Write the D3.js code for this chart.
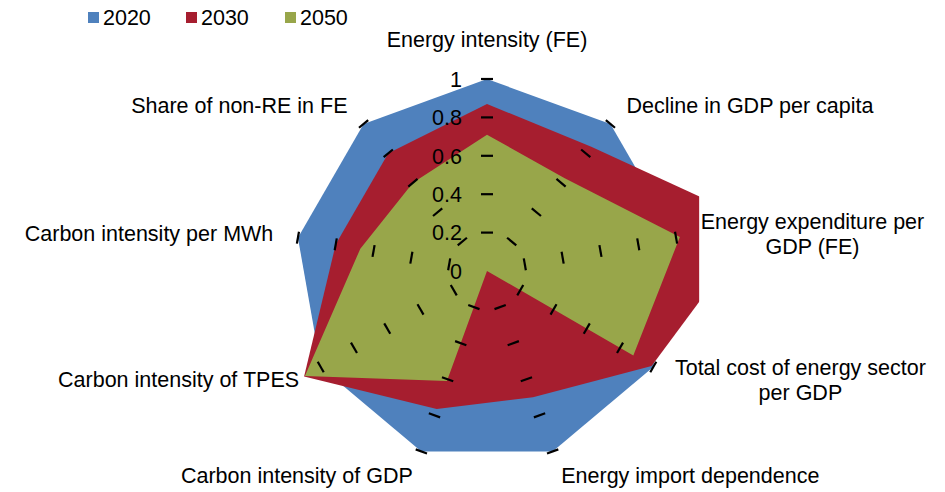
<!DOCTYPE html>
<html>
<head>
<meta charset="utf-8">
<script src="https://cdn.jsdelivr.net/npm/d3@7"></script>
<style>
  html, body { margin: 0; padding: 0; background: #fff; }
  svg { display: block; }
  text { font-family: "Liberation Sans", Arial, sans-serif; fill: #000; }
</style>
</head>
<body>
<script>
// ---- data ----
const categories = [
  "Energy intensity (FE)",
  "Decline in GDP per capita",
  "Energy expenditure per\nGDP (FE)",
  "Total cost of energy sector\nper GDP",
  "Energy import dependence",
  "Carbon intensity of GDP",
  "Carbon intensity of TPES",
  "Carbon intensity per MWh",
  "Share of non-RE in FE"
];
const years = ["2020", "2030", "2050"];
const v2020 = [1, 1, 1, 1, 1, 1, 1, 1, 1];
const v2030 = [0.87, 0.845, 1.43, 0.99, 0.70, 0.765, 1.10, 0.80, 0.80];
const v2050 = [0.71, 0.63, 1.02, 0.88, 0.0, 0.61, 1.095, 0.67, 0.60];
const tickValues = [0, 0.2, 0.4, 0.6, 0.8, 1];
const tickLabels = ["0", "0.2", "0.4", "0.6", "0.8", "1"];
const colors = ["#4F81BD", "#A61E2F", "#98A64A"];

// ---- layout ----
const W = 945, H = 492;
const cx = 487, cy = 271, R = 192;
const fontSize = 21.5;

const svg = d3.select("body").append("svg").attr("width", W).attr("height", H);

const r = d3.scaleLinear().domain([0, 1]).range([0, R]);
const angle = d3.scalePoint().domain(d3.range(categories.length))
  .range([0, 2 * Math.PI * (categories.length - 1) / categories.length]);

const g = svg.append("g").attr("transform", `translate(${cx},${cy})`);

// plot-area clip
const clipHalf = r(1.105);
svg.append("defs").append("clipPath").attr("id", "plotclip")
  .append("rect")
  .attr("x", -clipHalf).attr("y", -clipHalf)
  .attr("width", clipHalf * 2).attr("height", clipHalf * 2);

const radial = d3.lineRadial()
  .angle((d, i) => angle(i))
  .radius(d => r(d))
  .curve(d3.curveLinearClosed);

const series = [v2020, v2030, v2050];
g.append("g").attr("clip-path", "url(#plotclip)")
  .selectAll("path").data(series).join("path")
  .attr("d", d => radial(d))
  .attr("fill", (d, i) => colors[i])
  .attr("stroke", "none");

// tick dashes on every spoke at each level (perpendicular to spoke)
const dashHalf = 6;
const dashes = [];
categories.forEach((c, i) => {
  tickValues.filter(v => v > 0).forEach(v => dashes.push({ i, v }));
});
g.append("g").selectAll("line").data(dashes).join("line")
  .each(function (d) {
    const a = angle(d.i);
    const px = r(d.v) * Math.sin(a), py = -r(d.v) * Math.cos(a);
    const tx = Math.cos(a), ty = Math.sin(a);
    d3.select(this)
      .attr("x1", px - tx * dashHalf).attr("y1", py - ty * dashHalf)
      .attr("x2", px + tx * dashHalf).attr("y2", py + ty * dashHalf);
  })
  .attr("stroke", "#000").attr("stroke-width", 2.2);

// value-axis labels
g.append("g").selectAll("text").data(tickValues).join("text")
  .attr("x", -25)
  .attr("y", d => -r(d) + fontSize * 0.36)
  .attr("text-anchor", "end")
  .attr("font-size", fontSize)
  .text((d, i) => tickLabels[i]);

// category labels
const labelR = R + 25;
const lineH = 25;
const capHalf = fontSize * 0.36;
categories.forEach((c, i) => {
  const a = angle(i);
  const s = Math.sin(a), co = Math.cos(a);
  const ax = labelR * s, ay = -labelR * co;
  const lines = c.split("\n");
  const t = g.append("text").attr("font-size", fontSize).attr("text-anchor", "middle");
  lines.forEach((ln, k) => t.append("tspan").attr("x", 0).attr("y", k * lineH).text(ln));
  const w = d3.max(t.selectAll("tspan").nodes(), n => n.getComputedTextLength());
  let x;
  if (s > 0.1) x = ax + w / 2;
  else if (s < -0.1) x = ax - w / 2;
  else x = ax;
  let yc = ay;
  if (Math.abs(s) <= 0.1) yc = ay - co * 15;
  const blockCenterOffset = (lines.length - 1) * lineH / 2;
  const y0 = yc - blockCenterOffset + capHalf;
  t.attr("transform", `translate(${x},${y0})`);
});

// legend
const legendX = [88, 186, 285];
const lg = svg.append("g");
years.forEach((y, i) => {
  lg.append("rect").attr("x", legendX[i]).attr("y", 12).attr("width", 11).attr("height", 11)
    .attr("fill", colors[i]);
  lg.append("text").attr("x", legendX[i] + 15).attr("y", 25)
    .attr("font-size", fontSize).text(y);
});
</script>
</body>
</html>
